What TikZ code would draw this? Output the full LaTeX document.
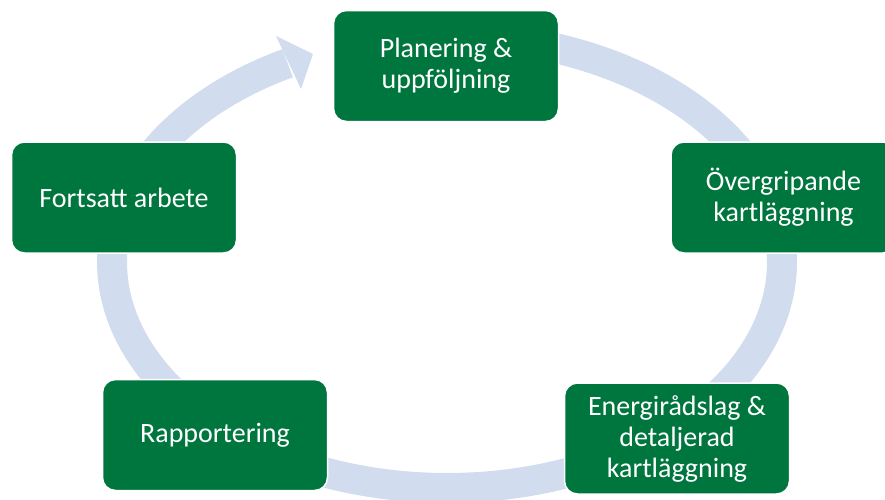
\documentclass[tikz,border=0pt]{standalone}
\usepackage{fontspec}
\setmainfont{Carlito}
\definecolor{boxgreen}{RGB}{0,118,63}
\definecolor{ringblue}{RGB}{209,220,238}
\tikzset{
  stage/.style={draw=white, line width=1.5pt, fill=boxgreen, rounded corners=13pt,
    minimum width=225pt, minimum height=111pt, inner sep=0pt, text=white, align=center,
    font=\fontsize{28}{31}\selectfont},
  ring/.style={draw=ringblue, line width=30pt},
  ringhead/.style={fill=ringblue, draw=none}
}
\begin{document}
\begin{tikzpicture}[x=1pt,y=-1pt]
\useasboundingbox (0,0) rectangle (885,499);
% cycle ring (ellipse centre (447,262), radii 335 x 226)
\draw[ring] plot[domain=-95:241.6, samples=300, smooth] ({447+335*cos(\x)},{262+226*sin(\x)});
\coordinate (tip) at (313,54);
\coordinate (b1) at (276,36);
\coordinate (b2) at (301,89);
\fill[ringhead] (b1) -- (tip) -- (b2) -- cycle;
% stages
\node[stage] (plan) at (446,66) {Planering \&\\uppföljning};
\node[stage] (over) at (783.5,197.5) {Övergripande\\kartläggning};
\node[stage] (energi) at (677,438.5) {Energirådslag \&\\detaljerad\\kartläggning};
\node[stage] (rapp) at (215,435) {Rapportering};
\node[stage] (forts) at (124,197.5) {Fortsatt arbete};
\end{tikzpicture}
\end{document}
